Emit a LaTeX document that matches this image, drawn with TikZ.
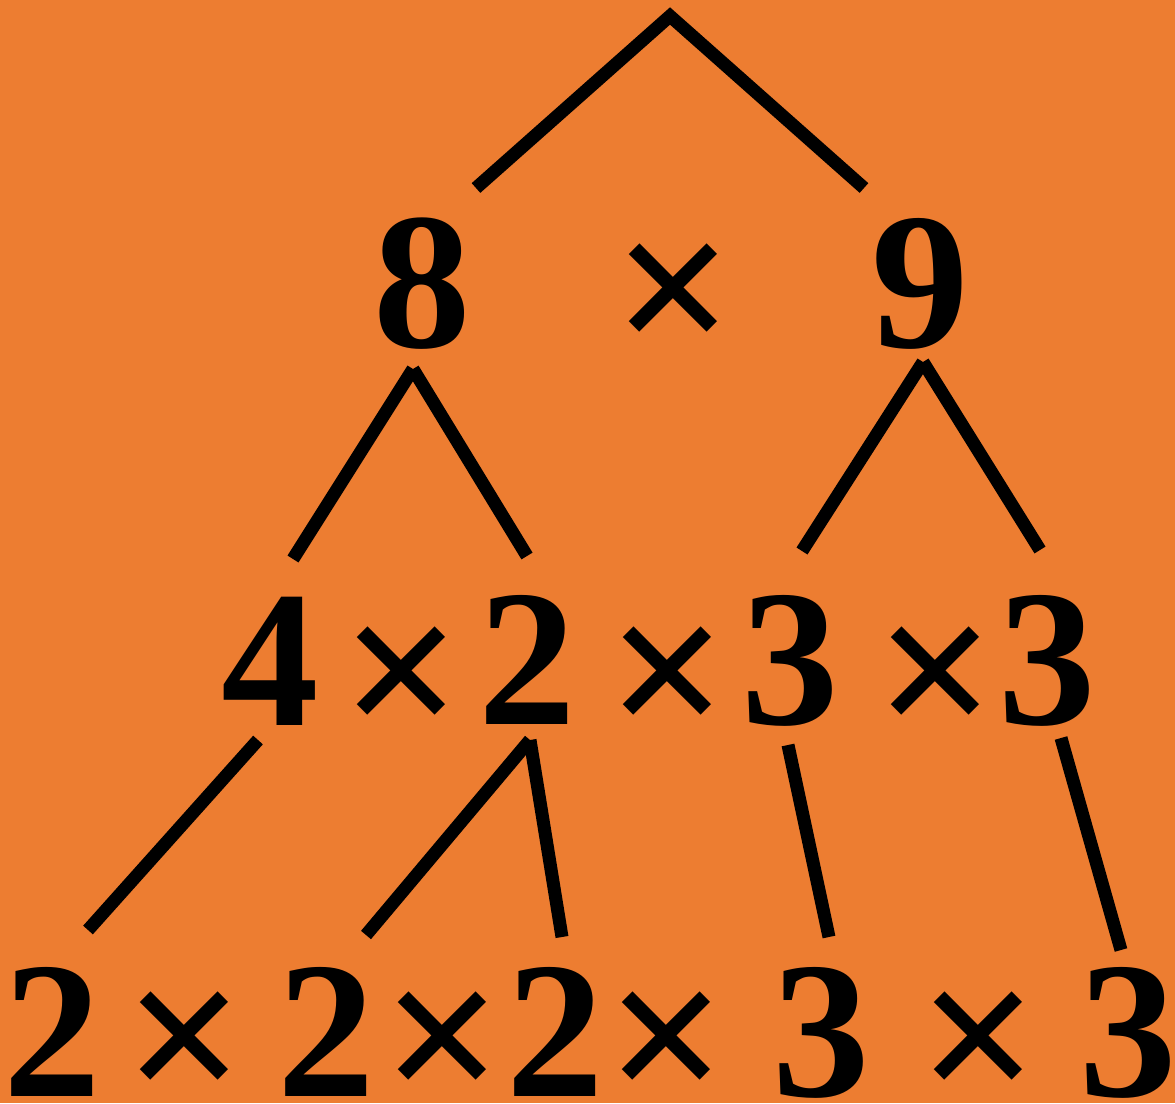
\documentclass[tikz,border=0pt]{standalone}
\usepackage{fontspec}
\newfontfamily\tnrb{Liberation Serif Bold}
\definecolor{bgorange}{HTML}{ED7D31}
\newcommand{\timesglyph}{\raisebox{-70pt}{×}}
\tikzset{
  dig/.style={inner sep=0pt, anchor=base, text height=140pt, text depth=0pt,
    font=\fontsize{195}{195}\selectfont\tnrb},
  tim/.style={inner sep=0pt, anchor=base, text height=46pt, text depth=46pt,
    font=\fontsize{212}{212}\selectfont\tnrb},
  branch/.style={line width=13pt, line cap=butt, black},
}
\begin{document}
\begin{tikzpicture}[x=1pt,y=-1pt]
\fill[bgorange] (0,0) rectangle (1175,1103);
\useasboundingbox (0,0) rectangle (1175,1103);
% row 1
\node[dig] (r1a) at (422,347) {8};
\node[tim] (r1x) at (674,288) {\timesglyph};
\node[dig] (r1b) at (920,347) {9};
% row 2
\node[dig] (r2a) at (270,725) {4};
\node[tim] (r2x1) at (402,671) {\timesglyph};
\node[dig] (r2b) at (527,724) {2};
\node[tim] (r2x2) at (668,671) {\timesglyph};
\node[dig] (r2c) at (790,724) {3};
\node[tim] (r2x3) at (936,671) {\timesglyph};
\node[dig] (r2d) at (1047,724) {3};
% row 3
\node[dig] (r3a) at (52,1096) {2};
\node[tim] (r3x1) at (185,1036) {\timesglyph};
\node[dig] (r3b) at (326,1096) {2};
\node[tim] (r3x2) at (443,1036) {\timesglyph};
\node[dig] (r3c) at (555,1096) {2};
\node[tim] (r3x3) at (667,1036) {\timesglyph};
\node[dig] (r3d) at (821,1096) {3};
\node[tim] (r3x4) at (979,1036) {\timesglyph};
\node[dig] (r3e) at (1128,1096) {3};
% branch points
\coordinate (top) at (670,16);
\coordinate (topL) at (476,188);
\coordinate (topR) at (864,188);
\coordinate (e8) at (413,369);
\coordinate (e8L) at (293,559);
\coordinate (e8R) at (527,556);
\coordinate (e9) at (923,362);
\coordinate (e9L) at (802,551);
\coordinate (e9R) at (1040,550);
\coordinate (e4) at (258,740);
\coordinate (e4L) at (88,930);
\coordinate (e2) at (530,740);
\coordinate (e2L) at (366,935);
\coordinate (e2R) at (562,937);
\coordinate (e3a) at (788,745);
\coordinate (e3aB) at (829,937);
\coordinate (e3b) at (1061,738);
\coordinate (e3bB) at (1121,950);
% connectors
\draw[branch, line join=miter] (topL) -- (top) -- (topR);
\draw[branch] (e8) -- (e8L);
\draw[branch] (e8) -- (e8R);
\draw[branch] (e9) -- (e9L);
\draw[branch] (e9) -- (e9R);
\draw[branch] (e4) -- (e4L);
\draw[branch] (e2) -- (e2L);
\draw[branch] (e2) -- (e2R);
\draw[branch] (e3a) -- (e3aB);
\draw[branch] (e3b) -- (e3bB);
\end{tikzpicture}
\end{document}
